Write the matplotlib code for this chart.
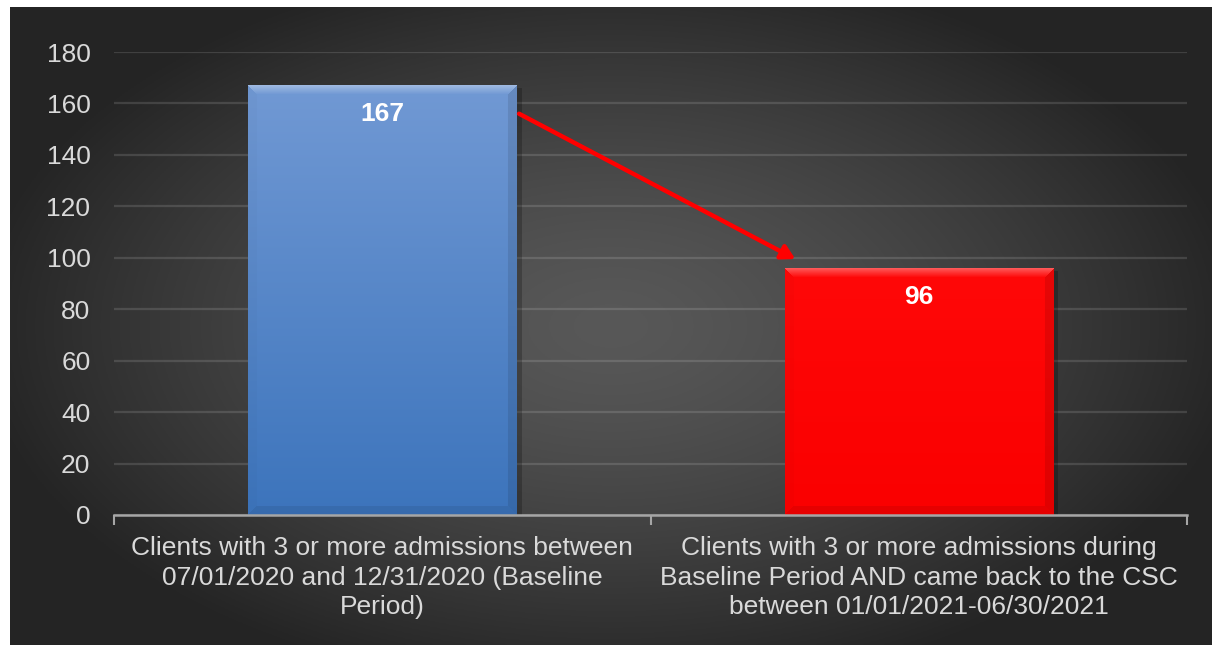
import numpy as np
import matplotlib
matplotlib.use("Agg")
import matplotlib.pyplot as plt

plt.rcParams['font.family'] = ['Liberation Sans', 'DejaVu Sans']

categories = [
    "Clients with 3 or more admissions between\n07/01/2020 and 12/31/2020 (Baseline\nPeriod)",
    "Clients with 3 or more admissions during\nBaseline Period AND came back to the CSC\nbetween 01/01/2021-06/30/2021",
]
counts = [167, 96]
y_ticks = [0, 20, 40, 60, 80, 100, 120, 140, 160, 180]

# top / bottom colours of each bar's vertical gradient
bar_colors = [("#7199d4", "#3c74bc"), ("#ff0808", "#fa0000")]

text_color = "#d9d9d9"
W, H, DPI = 1212, 645, 100

fig = plt.figure(figsize=(W / DPI, H / DPI), dpi=DPI)
fig.patch.set_facecolor("white")

# dark panel with a soft radial highlight in the middle
bg = fig.add_axes([10 / W, 0, 1 - 10 / W, 1 - 7 / H])
bg.set_axis_off()
gx, gy = np.meshgrid(np.linspace(-1, 1, 600), np.linspace(-1, 1, 320))
r = np.clip(np.sqrt((gx / 1.05) ** 2 + (gy / 1.15) ** 2), 0, 1)
shade = 0.345 - 0.2 * r ** 1.4
bg.imshow(np.dstack([shade] * 3), aspect="auto", extent=[0, 1, 0, 1])
bg.set_xlim(0, 1)
bg.set_ylim(0, 1)

ax = fig.add_axes([114 / W, 130 / H, 1073 / W, 463 / H])
ax.set_facecolor("none")
x = np.arange(len(counts))
ax.set_xlim(-0.5, len(counts) - 0.5)
ax.set_ylim(0, 180)

ax.set_yticks(y_ticks)
ax.yaxis.grid(True, color="#ffffff", alpha=0.13, lw=1.6)
ax.set_axisbelow(True)
ax.tick_params(axis="y", length=0, pad=17, labelsize=19, labelcolor=text_color)

ax.set_xticks(x)
ax.set_xticklabels(categories, fontsize=19, color=text_color, linespacing=1.3)
ax.set_xticks(np.arange(-0.5, len(counts)), minor=True)
ax.tick_params(axis="x", which="major", length=0, pad=15)
ax.tick_params(axis="x", which="minor", length=7, width=1.5, color="#a6a6a6")

for s in ["top", "right", "left"]:
    ax.spines[s].set_visible(False)
ax.spines["bottom"].set_color("#a6a6a6")
ax.spines["bottom"].set_linewidth(1.8)
ax.spines["bottom"].set_zorder(5)

bars = ax.bar(x, counts, width=0.5, color="none", edgecolor="none", zorder=3)

# fill each bar with a bevelled gradient image
for bar, (c_top, c_bot) in zip(bars, bar_colors):
    x0, y0 = bar.get_x(), bar.get_y()
    x1, y1 = x0 + bar.get_width(), y0 + bar.get_height()
    (px0, py0), (px1, py1) = ax.transData.transform([(x0, y0), (x1, y1)])
    w, h = int(round(px1 - px0)), int(round(py1 - py0))
    top = np.array(matplotlib.colors.to_rgb(c_top))
    bot = np.array(matplotlib.colors.to_rgb(c_bot))
    t = np.linspace(0, 1, h)[:, None, None]
    img = top * (1 - t) + bot * t
    img = np.repeat(img, w, axis=1)
    yy, xx = np.mgrid[0:h, 0:w]
    bev = 9
    top_band = (yy < bev) & (xx >= yy) & (xx < w - yy)
    bot_band = (yy >= h - bev) & (xx >= h - 1 - yy) & (xx < w - (h - 1 - yy))
    left_band = (xx < bev) & ~top_band & ~bot_band
    right_band = (xx >= w - bev) & ~top_band & ~bot_band
    lift = (0.32 * (1 - yy / bev))[top_band][:, None]
    img[top_band] = img[top_band] + (1 - img[top_band]) * lift
    img[bot_band] = img[bot_band] * 0.92
    img[left_band] = img[left_band] * 0.98
    img[right_band] = img[right_band] * 0.9
    img = np.clip(img, 0, 1)
    # soft shadow on the right
    ax.add_patch(plt.Rectangle((x1, y0), 0.01, bar.get_height() - 1,
                               color="black", alpha=0.22, lw=0, zorder=2))
    ax.imshow(img, extent=[x0, x1, y0, y1], aspect="auto", zorder=3,
              interpolation="bilinear")

ax.set_xlim(-0.5, len(counts) - 0.5)
ax.set_ylim(0, 180)

for xi, v in zip(x, counts):
    ax.annotate(f"{v}", (xi, v), xytext=(0, -20.5), textcoords="offset points",
                ha="center", va="center", fontsize=19, fontweight="bold",
                color="white", zorder=6)

# arrow from the first bar down to the second
b0, b1 = bars[0], bars[1]
ax.annotate("", xy=(b1.get_x() + 0.02, counts[1] + 3.5),
            xytext=(b0.get_x() + b0.get_width() + 0.005, counts[0] - 11),
            arrowprops=dict(arrowstyle="-|>,head_length=0.8,head_width=0.45",
                            color="#ff0000", lw=3.2, shrinkA=0, shrinkB=0),
            zorder=6)

fig.savefig("out.png", dpi=DPI, facecolor=fig.get_facecolor())
